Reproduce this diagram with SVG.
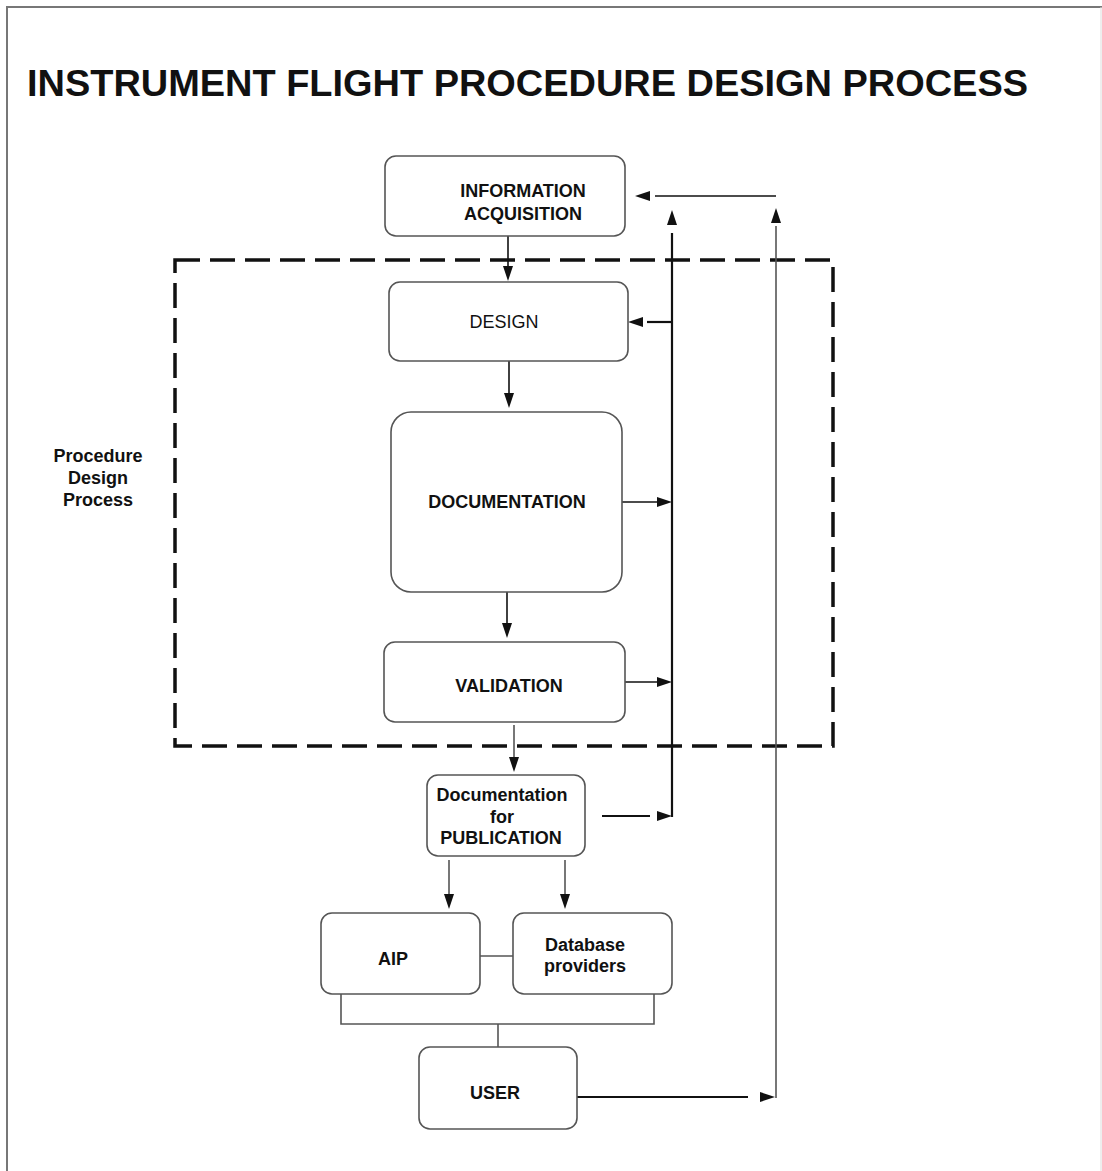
<svg xmlns="http://www.w3.org/2000/svg" width="1102" height="1171" viewBox="0 0 1102 1171">
<style>
.box{fill:#fff;stroke:#555;stroke-width:1.6}
.t{font-family:"Liberation Sans",Arial,sans-serif;font-size:18px;font-weight:bold;fill:#111;text-anchor:middle}
.tn{font-weight:normal}
.ln{fill:none;stroke:#111;stroke-width:1.6}
.lg{fill:none;stroke:#555;stroke-width:1.6}
.thick{stroke-width:2.2}
.ah{fill:#111}
</style>
<defs>
<path id="ah" d="M0,0 L-15,-5 L-15,5 Z"/>
</defs>
<rect width="1102" height="1171" fill="#fff"/>
<path d="M7,1171 V7 H1102" fill="none" stroke="#777" stroke-width="2"/>
<line x1="1101" y1="7" x2="1101" y2="1171" stroke="#ddd" stroke-width="1"/>
<text x="27" y="96" font-family="'Liberation Sans',Arial,sans-serif" font-size="36" font-weight="bold" fill="#111" textLength="1001" lengthAdjust="spacingAndGlyphs">INSTRUMENT FLIGHT PROCEDURE DESIGN PROCESS</text>

<g id="procedure-design-process">
<rect x="175" y="260" width="658" height="486" fill="none" stroke="#111" stroke-width="3.5" stroke-dasharray="25 10"/>
<text class="t" x="98" y="462" font-size="17">Procedure</text>
<text class="t" x="98" y="484" font-size="17">Design</text>
<text class="t" x="98" y="506" font-size="17">Process</text>
</g>

<g id="connectors">
<line class="ln" x1="508" y1="236" x2="508" y2="268"/>
<use href="#ah" class="ah" transform="translate(508,281) rotate(90)"/>
<line class="ln" x1="509" y1="361" x2="509" y2="395"/>
<use href="#ah" class="ah" transform="translate(509,408) rotate(90)"/>
<line class="ln" x1="507" y1="592" x2="507" y2="625"/>
<use href="#ah" class="ah" transform="translate(507,638) rotate(90)"/>
<line class="lg" x1="514" y1="725" x2="514" y2="759"/>
<use href="#ah" class="ah" transform="translate(514,772) rotate(90)"/>
<line class="lg" x1="449" y1="860" x2="449" y2="896"/>
<use href="#ah" class="ah" transform="translate(449,909) rotate(90)"/>
<line class="lg" x1="565" y1="860" x2="565" y2="896"/>
<use href="#ah" class="ah" transform="translate(565,909) rotate(90)"/>
<line class="ln" x1="622" y1="502" x2="658" y2="502"/>
<use href="#ah" class="ah" transform="translate(672,502)"/>
<line class="ln" x1="625" y1="682" x2="658" y2="682"/>
<use href="#ah" class="ah" transform="translate(672,682)"/>
<line class="ln thick" x1="602" y1="816" x2="650" y2="816"/>
<use href="#ah" class="ah" transform="translate(672,816)"/>
<line class="ln thick" x1="672" y1="817" x2="672" y2="233"/>
<use href="#ah" class="ah" transform="translate(672,210) rotate(-90)"/>
<line class="ln thick" x1="672" y1="322" x2="647" y2="322"/>
<use href="#ah" class="ah" transform="translate(628,322) rotate(180)"/>
<line class="ln" x1="776" y1="196" x2="655" y2="196"/>
<use href="#ah" class="ah" transform="translate(635,196) rotate(180)"/>
<line class="lg" x1="776" y1="1098" x2="776" y2="226"/>
<use href="#ah" class="ah" transform="translate(776,208) rotate(-90)"/>
<line class="ln thick" x1="577" y1="1097" x2="748" y2="1097"/>
<use href="#ah" class="ah" transform="translate(775,1097)"/>
<line class="lg" x1="480" y1="956" x2="513" y2="956"/>
<path class="lg" d="M341,994 V1024 H654 V994 M498,1024 V1047"/>
</g>

<g id="information-acquisition">
<rect class="box" x="385" y="156" width="240" height="80" rx="11"/>
<text class="t" x="523" y="197">INFORMATION</text>
<text class="t" x="523" y="220">ACQUISITION</text>
</g>
<g id="design">
<rect class="box" x="389" y="282" width="239" height="79" rx="11"/>
<text class="t tn" x="504" y="328">DESIGN</text>
</g>
<g id="documentation">
<rect class="box" x="391" y="412" width="231" height="180" rx="20"/>
<text class="t" x="507" y="508">DOCUMENTATION</text>
</g>
<g id="validation">
<rect class="box" x="384" y="642" width="241" height="80" rx="11"/>
<text class="t" x="509" y="692">VALIDATION</text>
</g>
<g id="documentation-for-publication">
<rect class="box" x="427" y="775" width="158" height="81" rx="11"/>
<text class="t" x="502" y="801">Documentation</text>
<text class="t" x="502" y="823">for</text>
<text class="t" x="501" y="844">PUBLICATION</text>
</g>
<g id="aip">
<rect class="box" x="321" y="913" width="159" height="81" rx="11"/>
<text class="t" x="393" y="965">AIP</text>
</g>
<g id="database-providers">
<rect class="box" x="513" y="913" width="159" height="81" rx="11"/>
<text class="t" x="585" y="951">Database</text>
<text class="t" x="585" y="972">providers</text>
</g>
<g id="user">
<rect class="box" x="419" y="1047" width="158" height="82" rx="11"/>
<text class="t" x="495" y="1099">USER</text>
</g>
</svg>
